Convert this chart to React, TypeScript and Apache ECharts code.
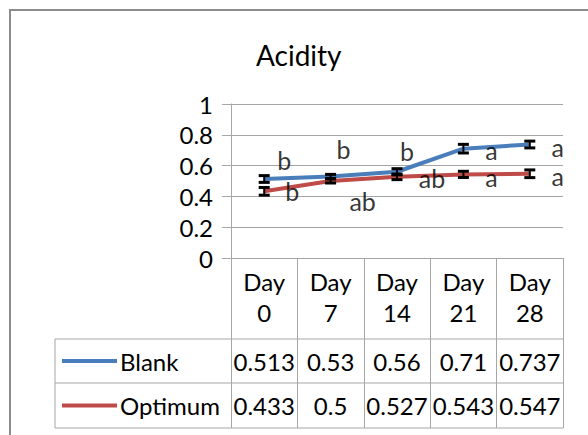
import React, { useEffect, useRef } from 'react';
import * as echarts from 'echarts';

const categories = ['Day 0', 'Day 7', 'Day 14', 'Day 21', 'Day 28'];
const seriesNames = ['Blank', 'Optimum'];
const blank = [0.513, 0.53, 0.56, 0.71, 0.737];
const optimum = [0.433, 0.5, 0.527, 0.543, 0.547];
const blankErr = [0.022, 0.013, 0.02, 0.028, 0.022];
const optimumErr = [0.025, 0.013, 0.018, 0.02, 0.025];
const blankLetters = ['b', 'b', 'b', 'a', 'a'];
const optimumLetters = ['b', 'ab', 'ab', 'a', 'a'];
const yMin = 0;
const yMax = 1;
const yInterval = 0.2;

// label offsets (px) of the significance letters from their points
const blankLetterOffsets = [[20, -19], [13, -27], [10, -21], [28, 1], [28, 2]];
const optimumLetterOffsets = [[28, 0], [32, 20], [35, 1], [28, 3], [28, 2]];

const FONT = 'Lato, "Open Sans", sans-serif';
const GRAY = '#a6a6a6';
const W = 588;
const GRID_L = 231;
const GRID_R = 563;
const GRID_T = 104;
const GRID_B = 258;
const ROW1 = 339;
const ROW2 = 383;
const ROW3 = 428;
const TABLE_L = 55;
const COLORS = ['#4a7ebb', '#be4b48'];

function errorBars(values: number[], errs: number[]) {
  return {
    type: 'custom',
    xAxisIndex: 0,
    yAxisIndex: 0,
    z: 5,
    silent: true,
    data: values.map((v, i) => [i, v, errs[i]]),
    renderItem: (_p: any, api: any) => {
      const i = api.value(0);
      const v = api.value(1);
      const e = api.value(2);
      const top = api.coord([i, v + e]);
      const bot = api.coord([i, v - e]);
      const hw = 5.5;
      const style = { stroke: '#000', lineWidth: 2 };
      const cap = { stroke: '#000', lineWidth: 3 };
      return {
        type: 'group',
        children: [
          { type: 'line', shape: { x1: top[0], y1: top[1], x2: bot[0], y2: bot[1] }, style },
          { type: 'line', shape: { x1: top[0] - hw, y1: top[1], x2: top[0] + hw, y2: top[1] }, style: cap },
          { type: 'line', shape: { x1: bot[0] - hw, y1: bot[1], x2: bot[0] + hw, y2: bot[1] }, style: cap },
        ],
      };
    },
  };
}

function letterSeries(values: number[], letters: string[], offsets: number[][]) {
  return {
    type: 'scatter',
    xAxisIndex: 0,
    yAxisIndex: 0,
    silent: true,
    symbolSize: 1,
    z: 6,
    itemStyle: { color: 'rgba(0,0,0,0)' },
    data: values.map((v, i) => ({
      value: [i, v],
      label: {
        show: true,
        formatter: letters[i],
        position: 'inside',
        offset: offsets[i],
        align: 'center',
        verticalAlign: 'middle',
        fontSize: 25,
        fontFamily: FONT,
        color: '#000',
      },
    })),
  };
}

export default function App() {
  const ref = useRef<HTMLDivElement>(null);
  useEffect(() => {
    const chart = echarts.init(ref.current!, null, { renderer: 'svg' });
    const textStyle = { fontSize: 24, fontFamily: FONT, color: '#000' };
    const hLine = (y: number) => ({
      type: 'line',
      shape: { x1: TABLE_L, y1: y, x2: GRID_R, y2: y },
      style: { stroke: GRAY, lineWidth: 1 },
    });
    const option: any = {
      animation: false,
      backgroundColor: '#fff',
      title: {
        text: 'Acidity',
        left: 256,
        top: 41,
        padding: 0,
        textStyle: { fontSize: 28, fontWeight: 'normal', fontFamily: FONT, color: '#000' },
      },
      legend: {
        data: seriesNames,
        orient: 'vertical',
        left: 62,
        top: 349,
        padding: 0,
        itemGap: 20.5,
        itemWidth: 55,
        itemHeight: 4,
        icon: 'rect',
        selectedMode: false,
        textStyle: { ...textStyle, lineHeight: 24, padding: [0, 0, 0, -2] },
      },
      grid: [
        { left: GRID_L, right: W - GRID_R, top: GRID_T, height: GRID_B - GRID_T },
        { left: GRID_L, right: W - GRID_R, top: ROW1, height: ROW2 - ROW1 },
        { left: GRID_L, right: W - GRID_R, top: ROW2, height: ROW3 - ROW2 },
      ],
      xAxis: [
        {
          gridIndex: 0,
          type: 'category',
          data: categories,
          boundaryGap: true,
          axisLine: { show: true, lineStyle: { color: GRAY, width: 1 } },
          axisTick: { show: true, interval: 0, length: ROW3 - GRID_B, lineStyle: { color: GRAY, width: 1 } },
          axisLabel: {
            ...textStyle,
            interval: 0,
            margin: 8,
            lineHeight: 31,
            formatter: (v: string) => v.replace(' ', '\n'),
          },
        },
        {
          gridIndex: 1,
          type: 'category',
          data: blank.map(String),
          axisLine: { show: false },
          axisTick: { show: false },
          axisLabel: { ...textStyle, interval: 0, margin: -(ROW2 - ROW1) / 2, verticalAlign: 'middle' },
        },
        {
          gridIndex: 2,
          type: 'category',
          data: optimum.map(String),
          axisLine: { show: false },
          axisTick: { show: false },
          axisLabel: { ...textStyle, interval: 0, margin: -(ROW3 - ROW2) / 2, verticalAlign: 'middle' },
        },
      ],
      yAxis: [
        {
          gridIndex: 0,
          type: 'value',
          min: yMin,
          max: yMax,
          interval: yInterval,
          axisLine: { show: true, lineStyle: { color: GRAY, width: 1 } },
          axisTick: { show: true, length: 9, lineStyle: { color: GRAY, width: 1 } },
          splitLine: { show: true, lineStyle: { color: GRAY, width: 1 } },
          axisLabel: { ...textStyle, margin: 18 },
        },
        { gridIndex: 1, type: 'value', show: false },
        { gridIndex: 2, type: 'value', show: false },
      ],
      series: [
        {
          name: seriesNames[0],
          type: 'line',
          data: blank,
          symbol: 'none',
          color: COLORS[0],
          lineStyle: { width: 4, color: COLORS[0] },
          z: 3,
        },
        {
          name: seriesNames[1],
          type: 'line',
          data: optimum,
          symbol: 'none',
          color: COLORS[1],
          lineStyle: { width: 4, color: COLORS[1] },
          z: 2,
        },
        errorBars(blank, blankErr),
        errorBars(optimum, optimumErr),
        letterSeries(blank, blankLetters, blankLetterOffsets),
        letterSeries(optimum, optimumLetters, optimumLetterOffsets),
      ],
      graphic: [
        {
          type: 'rect',
          shape: { x: 10, y: 10, width: 620, height: 460 },
          style: { fill: 'none', stroke: '#8c8c8c', lineWidth: 2 },
          silent: true,
        },
        hLine(ROW1),
        hLine(ROW2),
        hLine(ROW3),
        {
          type: 'line',
          shape: { x1: TABLE_L, y1: ROW1, x2: TABLE_L, y2: ROW3 },
          style: { stroke: GRAY, lineWidth: 1 },
        },
      ],
    };
    chart.setOption(option);
    return () => chart.dispose();
  }, []);
  return (
    <div
      ref={ref}
      style={{ position: 'fixed', left: 0, top: 0, width: 588, height: 435, background: '#fff' }}
    />
  );
}
